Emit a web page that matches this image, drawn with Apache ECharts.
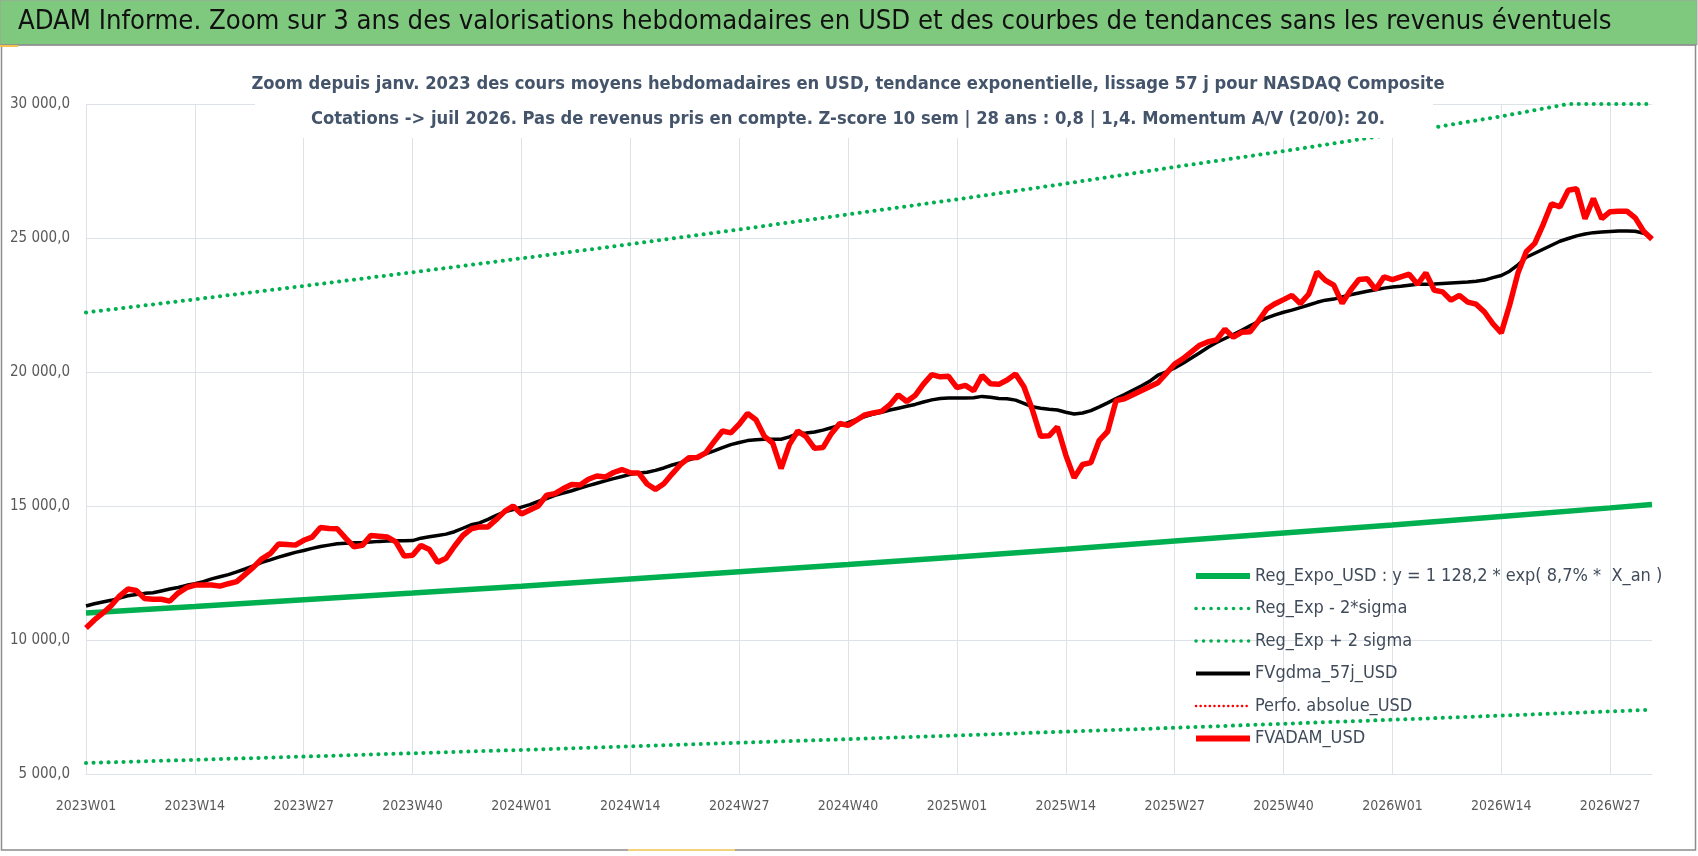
<!DOCTYPE html>
<html>
<head>
<meta charset="utf-8">
<title>ADAM Informe - NASDAQ Composite</title>
<script src="https://cdn.jsdelivr.net/npm/echarts@6.0.0/dist/echarts.min.js"></script>
<style>
	html, body { margin: 0; padding: 0; background: #fff; }
	#main { width: 1698px; height: 856px; }
</style>
</head>
<body>
<div id="main"></div>
<script>
// weekly categories 2023W01 .. 2026W32
var categories = [];
for (var yr = 2023; yr <= 2026; yr++) {
	for (var wk = 1; wk <= 52; wk++) {
		if (yr === 2026 && wk > 32) break;
		categories.push(yr + 'W' + (wk < 10 ? '0' + wk : wk));
	}
}

// trend curves, read at the vertical grid lines
var trendWeeks = ['2023W01', '2023W14', '2023W27', '2023W40', '2024W01', '2024W14', '2024W27', '2024W40',
	'2025W01', '2025W14', '2025W27', '2025W40', '2026W01', '2026W14', '2026W27', '2026W32'];
var regExpo = [11010, 11250, 11500, 11750, 12010, 12280, 12550, 12820, 13100, 13390, 13690, 13990, 14290, 14610, 14930, 15060];
var regMinus2 = [5410, 5530, 5650, 5775, 5900, 6030, 6165, 6300, 6440, 6580, 6725, 6875, 7025, 7180, 7335, 7400];
var upperWeeks = ['2023W01', '2023W14', '2023W27', '2023W40', '2024W01', '2024W14', '2024W27', '2024W40',
	'2025W01', '2025W14', '2025W27', '2025W40', '2026W01', '2026W14', '2026W22', '2026W27', '2026W32'];
var regPlus2 = [22220, 22710, 23210, 23720, 24240, 24770, 25320, 25880, 26440, 27030, 27650, 28240, 28870, 29540, 30000, 30000, 30000];

// 57 day moving average (black)
var fvGdma = [
	11270, 11350, 11420, 11480, 11560, 11650, 11700, 11740, 11760, 11830, 11900, 11960, 12040, 12100, 12180, 12280,
	12360, 12440, 12540, 12650, 12770, 12900, 12990, 13090, 13180, 13270, 13340, 13420, 13490, 13540, 13590, 13610,
	13630, 13640, 13660, 13680, 13690, 13700, 13700, 13710, 13800, 13850, 13900, 13950, 14040, 14170, 14300, 14370,
	14500, 14650, 14780, 14870, 14960, 15050, 15170, 15280, 15400, 15480, 15570, 15670, 15760, 15850, 15940, 16020,
	16100, 16180, 16230, 16260, 16330, 16420, 16530, 16620, 16720, 16820, 16950, 17060, 17180, 17290, 17370, 17440,
	17470, 17490, 17490, 17490, 17580, 17700, 17720, 17760, 17830, 17920, 18010, 18110, 18230, 18340, 18430, 18500,
	18580, 18650, 18720, 18790, 18880, 18960, 19010, 19030, 19030, 19030, 19040, 19090, 19060, 19010, 19000, 18950,
	18830, 18700, 18650, 18610, 18580, 18500, 18430, 18470, 18560, 18700, 18850, 19010, 19160, 19320, 19480, 19650,
	19880, 20000, 20150, 20330, 20520, 20720, 20920, 21100, 21250, 21400, 21560, 21720, 21880, 22020, 22130, 22230,
	22310, 22400, 22500, 22600, 22680, 22720, 22800, 22880, 22950, 23010, 23070, 23130, 23170, 23200, 23240, 23270,
	23270, 23280, 23300, 23320, 23340, 23360, 23390, 23430, 23520, 23600, 23760, 24000, 24280, 24430, 24580, 24730,
	24880, 24980, 25080, 25150, 25200, 25220, 25240, 25260, 25260, 25250, 25180, 25020
];

// weekly average price (red)
var fvAdam = [
	10450, 10750, 11000, 11280, 11640, 11900, 11850, 11550, 11520, 11520, 11450, 11750, 11950, 12050, 12050, 12050,
	12010, 12100, 12180, 12450, 12720, 13030, 13220, 13580, 13560, 13540, 13720, 13840, 14200, 14160, 14150, 13800,
	13480, 13530, 13900, 13870, 13840, 13660, 13130, 13160, 13530, 13380, 12900, 13050, 13500, 13900, 14150, 14220,
	14220, 14500, 14800, 15000, 14700, 14850, 15000, 15400, 15460, 15650, 15800, 15780, 16000, 16120, 16080, 16250,
	16360, 16240, 16230, 15820, 15620, 15830, 16200, 16550, 16800, 16810, 16980, 17400, 17800, 17730, 18050, 18450,
	18220, 17600, 17350, 16400, 17300, 17800, 17580, 17150, 17180, 17700, 18080, 18010, 18200, 18400, 18470, 18530,
	18780, 19150, 18900, 19120, 19550, 19900, 19820, 19840, 19420, 19500, 19300, 19870, 19560, 19540, 19700, 19930,
	19450, 18600, 17600, 17620, 17950, 16900, 16050, 16550, 16620, 17450, 17780, 18930, 19000, 19150, 19300, 19450,
	19600, 19950, 20300, 20500, 20750, 21000, 21130, 21200, 21600, 21300, 21480, 21500, 21900, 22350, 22550, 22700,
	22860, 22550, 22900, 23730, 23420, 23240, 22560, 23050, 23450, 23480, 23080, 23550, 23450, 23550, 23650, 23270,
	23700, 23050, 22990, 22680, 22860, 22610, 22530, 22240, 21800, 21460, 22500, 23700, 24500, 24800, 25500, 26280,
	26160, 26780, 26840, 25720, 26470, 25720, 25980, 26000, 26000, 25750, 25250, 24950
];

// nothing of this one falls inside the window
var perfoAbsolue = [];

var yTicks = { min: 5000, max: 30000, step: 5000 };

var FONT = "'Liberation Sans Narrow', 'DejaVu Sans Condensed', 'Open Sans', sans-serif";

function pairs(weeks, values) {
	var out = [];
	for (var i = 0; i < weeks.length; i++) {
		out.push([weeks[i], values[i]]);
	}
	return out;
}

function frNumber(v) {
	var s = Math.round(v).toString();
	return s.replace(/\B(?=(\d{3})+(?!\d))/g, ' ') + ',0';
}

var dots = [0.1, 7.4];
var NAME_EXPO = 'Reg_Expo_USD : y = 1 128,2 * exp( 8,7% *  X_an )';

var option = {
	animation: false,
	backgroundColor: '#fff',
	title: {
		text: 'ADAM Informe. Zoom sur 3 ans des valorisations hebdomadaires en USD et des courbes de tendances sans les revenus éventuels',
		left: 18,
		top: 8,
		padding: 0,
		textStyle: { fontFamily: FONT, fontSize: 27.2, fontWeight: 'normal', color: '#111' },
		z: 12
	},
	graphic: [
		{ type: 'rect', z: -1, shape: { x: 0, y: 0, width: 1697, height: 45 }, style: { fill: '#7fc97f', stroke: '#a0a0a0', lineWidth: 1 } },
		{ type: 'rect', z: -1, shape: { x: 1.5, y: 45, width: 1694, height: 805 }, style: { fill: 'none', stroke: '#8c8c8c', lineWidth: 1.5 } },
		{ type: 'line', z: 1, shape: { x1: 0, y1: 46, x2: 18, y2: 46 }, style: { stroke: '#f2c14e', lineWidth: 2 } },
		{ type: 'line', z: 1, shape: { x1: 628, y1: 850, x2: 735, y2: 850 }, style: { stroke: '#f2d27a', lineWidth: 2 } },
		{ type: 'rect', z: 10, shape: { x: 255, y: 60, width: 1178, height: 78 }, style: { fill: '#fff' } },
		{
			type: 'text', z: 11, x: 848, y: 84,
			style: {
				text: 'Zoom depuis janv. 2023 des cours moyens hebdomadaires en USD, tendance exponentielle, lissage 57 j pour NASDAQ Composite',
				font: 'bold 18.2px ' + FONT, fill: '#44546a', align: 'center', verticalAlign: 'middle'
			}
		},
		{
			type: 'text', z: 11, x: 848, y: 119,
			style: {
				text: 'Cotations -> juil 2026. Pas de revenus pris en compte. Z-score 10 sem | 28 ans : 0,8 | 1,4. Momentum A/V (20/0): 20.',
				font: 'bold 18.2px ' + FONT, fill: '#44546a', align: 'center', verticalAlign: 'middle'
			}
		}
	],
	legend: {
		orient: 'vertical',
		left: 1188,
		top: 561,
		itemWidth: 54,
		itemHeight: 14,
		itemGap: 12.5,
		itemStyle: { color: 'rgba(0,0,0,0)', borderWidth: 0 },
		textStyle: { fontFamily: FONT, fontSize: 18, color: '#404b5a', lineHeight: 20 },
		data: [
			{ name: NAME_EXPO, lineStyle: { width: 6 } },
			{ name: 'Reg_Exp - 2*sigma', lineStyle: { width: 3.5 } },
			{ name: 'Reg_Exp + 2 sigma', lineStyle: { width: 3.5 } },
			{ name: 'FVgdma_57j_USD', lineStyle: { width: 4 } },
			{ name: 'Perfo. absolue_USD', lineStyle: { width: 2.5 } },
			{ name: 'FVADAM_USD', lineStyle: { width: 6 } }
		]
	},
	grid: { left: 86, right: 46, top: 104, bottom: 82 },
	xAxis: {
		type: 'category',
		boundaryGap: false,
		data: categories,
		axisLine: { show: true, lineStyle: { color: '#dde1e8' } },
		axisTick: { show: false },
		axisLabel: { interval: 12, fontFamily: FONT, fontSize: 14, color: '#595959', margin: 25 },
		splitLine: { show: true, interval: 12, lineStyle: { color: '#dde1e8', width: 1 } }
	},
	yAxis: {
		type: 'value',
		min: yTicks.min,
		max: yTicks.max,
		interval: yTicks.step,
		axisLine: { show: false },
		axisTick: { show: false },
		axisLabel: { fontFamily: FONT, fontSize: 15, color: '#595959', margin: 16, formatter: frNumber },
		splitLine: { lineStyle: { color: '#dde1e8', width: 1 } }
	},
	series: [
		{
			name: NAME_EXPO,
			type: 'line', showSymbol: false, symbol: 'none',
			lineStyle: { color: '#00b050', width: 5.5 },
			itemStyle: { color: '#00b050' },
			data: pairs(trendWeeks, regExpo)
		},
		{
			name: 'Reg_Exp - 2*sigma',
			type: 'line', showSymbol: false, symbol: 'none',
			lineStyle: { color: '#00b050', width: 4, type: dots, cap: 'round' },
			itemStyle: { color: '#00b050' },
			data: pairs(trendWeeks, regMinus2)
		},
		{
			name: 'Reg_Exp + 2 sigma',
			type: 'line', showSymbol: false, symbol: 'none',
			lineStyle: { color: '#00b050', width: 4, type: dots, cap: 'round' },
			itemStyle: { color: '#00b050' },
			data: pairs(upperWeeks, regPlus2)
		},
		{
			name: 'FVgdma_57j_USD',
			type: 'line', showSymbol: false, symbol: 'none',
			lineStyle: { color: '#000', width: 3.5 },
			itemStyle: { color: '#000' },
			data: fvGdma
		},
		{
			name: 'Perfo. absolue_USD',
			type: 'line', showSymbol: false, symbol: 'none',
			lineStyle: { color: '#ff0000', width: 2.5, type: [0.1, 4.5], cap: 'round' },
			itemStyle: { color: '#ff0000' },
			data: perfoAbsolue
		},
		{
			name: 'FVADAM_USD',
			type: 'line', showSymbol: false, symbol: 'none',
			lineStyle: { color: '#ff0000', width: 5.5 },
			itemStyle: { color: '#ff0000' },
			data: fvAdam
		}
	]
};

var chart = echarts.init(document.getElementById('main'));
chart.setOption(option);
</script>
</body>
</html>
